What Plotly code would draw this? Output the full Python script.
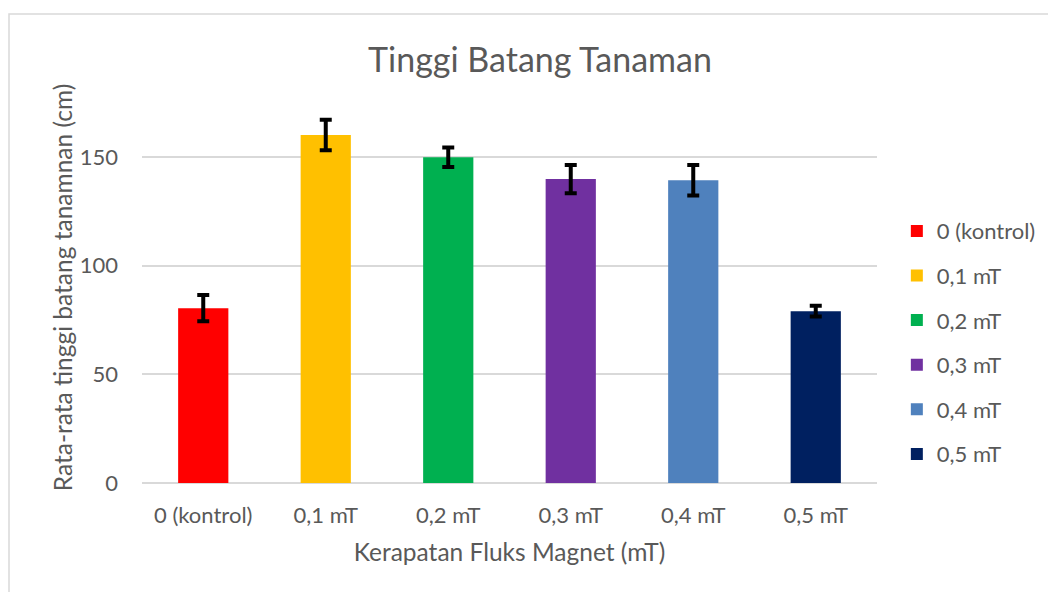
import plotly.graph_objects as go

categories = ["0 (kontrol)", "0,1 mT", "0,2 mT", "0,3 mT", "0,4 mT", "0,5 mT"]
heights = [80.5, 160.2, 150.0, 139.9, 139.4, 79.1]
errors = [6.0, 7.0, 4.5, 6.5, 7.0, 2.5]
colors = ["#FF0000", "#FFC000", "#00B050", "#7030A0", "#4F81BD", "#002060"]

FONT = "Lato"
GRAY = "#595959"

fig = go.Figure()
for i, (c, h, e, col) in enumerate(zip(categories, heights, errors, colors)):
    fig.add_trace(go.Bar(
        x=[c], y=[h], name=c, marker=dict(color=col, line=dict(width=0)),
        error_y=dict(type="data", array=[e], visible=True, color="black", thickness=4, width=6),
        legendgroup=f"g{i}",
    ))

# page body adds an 8px offset; margins are set so the plot lands where the reference has it
fig.update_layout(
    width=1056, height=592,
    barmode="relative", bargap=0.59,
    paper_bgcolor="white", plot_bgcolor="white",
    margin=dict(l=134, r=187, t=84, b=117),
    font=dict(family=FONT, color=GRAY, size=22),
    title=dict(text="Tinggi Batang Tanaman", x=(540 - 8) / 1056, xanchor="center", xref="container",
               y=1 - 52 / 592, yanchor="middle", yref="container",
               font=dict(size=34, color=GRAY, family=FONT)),
    legend=dict(x=1.027, xanchor="left", y=0.698, yanchor="top",
                font=dict(size=22, color=GRAY, family=FONT), tracegroupgap=13,
                bgcolor="rgba(0,0,0,0)"),
    showlegend=True,
)
fig.update_xaxes(
    categoryorder="array", categoryarray=categories,
    showgrid=False, showline=False, zeroline=False, ticks="", ticklabelstandoff=17,
    tickfont=dict(size=22, color=GRAY),
    title=dict(text="Kerapatan Fluks Magnet (mT)", font=dict(size=24.5, color=GRAY), standoff=16),
)
fig.update_yaxes(
    range=[0, 180], tickvals=[0, 50, 100, 150],
    showgrid=True, gridcolor="#D9D9D9", gridwidth=1.5,
    zeroline=True, zerolinecolor="#D9D9D9", zerolinewidth=1.5,
    showline=False, ticks="", ticklabelstandoff=23,
    tickfont=dict(size=22, color=GRAY),
    title=dict(text="Rata-rata tinggi batang tanamnan (cm)", font=dict(size=24.5, color=GRAY), standoff=0),
)
fig.add_shape(type="rect", xref="paper", yref="paper",
              x0=(1 - 134) / 735, x1=(1100 - 134) / 735,
              y0=(475 - 700) / 391, y1=(475 - 6) / 391,
              line=dict(color="#D9D9D9", width=1.5), fillcolor="rgba(0,0,0,0)", layer="below")

fig.write_html("out.html")
